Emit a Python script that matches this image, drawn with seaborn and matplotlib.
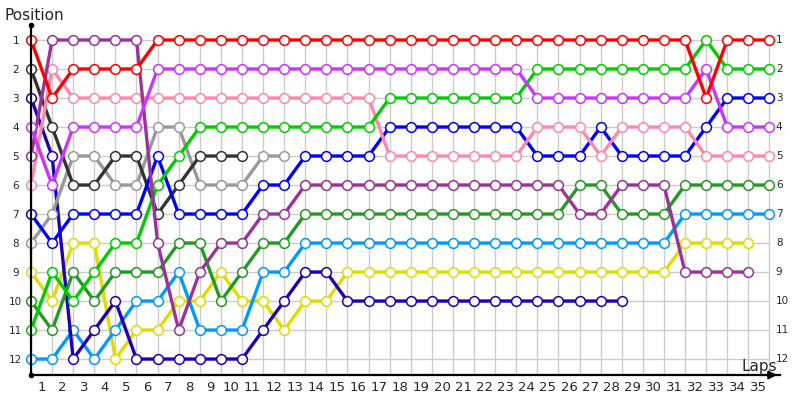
import matplotlib
matplotlib.use("Agg")
import matplotlib.pyplot as plt
import pandas as pd
import seaborn as sns

laps = list(range(36))
pos_labels = list(range(1, 13))

red = [1, 3, 2, 2, 2, 2, 1, 1, 1, 1, 1, 1, 1, 1, 1, 1, 1, 1, 1, 1, 1, 1, 1, 1, 1, 1,
       1, 1, 1, 1, 1, 1, 3, 1, 1, 1]
dark_gray = [2, 4, 6, 6, 5, 5, 7, 6, 5, 5, 5]
gray = [8, 7, 5, 5, 6, 6, 4, 4, 6, 6, 6, 5, 5]
indigo = [3, 5, 12, 11, 10, 12, 12, 12, 12, 12, 12, 11, 10, 9, 9, 10, 10, 10, 10, 10,
          10, 10, 10, 10, 10, 10, 10, 10, 10]
violet = [4, 6, 4, 4, 4, 4, 2, 2, 2, 2, 2, 2, 2, 2, 2, 2, 2, 2, 2, 2, 2, 2, 2, 2, 3, 3,
          3, 3, 3, 3, 3, 3, 2, 4, 4, 4]
purple = [5, 1, 1, 1, 1, 1, 8, 11, 9, 8, 8, 7, 7, 6, 6, 6, 6, 6, 6, 6, 6, 6, 6, 6, 6, 6,
          7, 7, 6, 6, 6, 9, 9, 9, 9]
pink = [6, 2, 3, 3, 3, 3, 3, 3, 3, 3, 3, 3, 3, 3, 3, 3, 3, 5, 5, 5, 5, 5, 5, 5, 4, 4,
        4, 5, 4, 4, 4, 4, 5, 5, 5, 5]
blue = [7, 8, 7, 7, 7, 7, 5, 7, 7, 7, 7, 6, 6, 5, 5, 5, 5, 4, 4, 4, 4, 4, 4, 4, 5, 5,
        5, 4, 5, 5, 5, 5, 4, 3, 3, 3]
green = [11, 9, 10, 9, 8, 8, 6, 5, 4, 4, 4, 4, 4, 4, 4, 4, 4, 3, 3, 3, 3, 3, 3, 3, 2, 2,
         2, 2, 2, 2, 2, 2, 1, 2, 2, 2]
dark_green = [10, 11, 9, 10, 9, 9, 9, 8, 8, 10, 9, 8, 8, 7, 7, 7, 7, 7, 7, 7, 7, 7, 7, 7,
              7, 7, 6, 6, 7, 7, 7, 6, 6, 6, 6, 6]
light_blue = [12, 12, 11, 12, 11, 10, 10, 9, 11, 11, 11, 9, 9, 8, 8, 8, 8, 8, 8, 8, 8, 8,
              8, 8, 8, 8, 8, 8, 8, 8, 8, 7, 7, 7, 7, 7]
yellow = [9, 10, 8, 8, 12, 11, 11, 10, 10, 9, 10, 10, 11, 10, 10, 9, 9, 9, 9, 9, 9, 9, 9,
          9, 9, 9, 9, 9, 9, 9, 9, 8, 8, 8, 8]

series = {
    "yellow": yellow, "light_blue": light_blue, "indigo": indigo, "dark_green": dark_green,
    "gray": gray, "dark_gray": dark_gray, "blue": blue, "pink": pink, "green": green,
    "purple": purple, "violet": violet, "red": red,
}
palette = {
    "red": "#ff0000", "dark_gray": "#333333", "indigo": "#1f00b8", "violet": "#cc33ff",
    "purple": "#993399", "pink": "#ff88aa", "blue": "#0000ff", "gray": "#999999",
    "yellow": "#dddd00", "dark_green": "#229922", "green": "#00cc00", "light_blue": "#0099ff",
}

rows = []
for name, vals in series.items():
    for lap, p in zip(laps, vals):
        rows.append({"driver": name, "lap": lap, "position": p})
df = pd.DataFrame(rows)

sns.set_style("white")
plt.rcParams["font.family"] = ["DejaVu Sans"]

fig = plt.figure(figsize=(8, 4), dpi=100)
ax = fig.add_axes([31 / 800, 25 / 400, 749 / 800, 350 / 400])
ax.set_xlim(0, 35.5)
ax.set_ylim(12.55, 0.483)

# grid
ax.vlines(laps, 1, 12.55, color="#cccccc", lw=1, zorder=0)
ax.hlines(pos_labels, 0, laps[-1], color="#cccccc", lw=1, zorder=0)

sns.lineplot(data=df, x="lap", y="position", hue="driver", palette=palette,
             hue_order=list(series.keys()), estimator=None, sort=False,
             marker="o", markersize=7, linewidth=2.4, legend=False, ax=ax)
for line in ax.get_lines():
    c = line.get_color()
    line.set_markerfacecolor("white")
    line.set_markeredgecolor(c)
    line.set_markeredgewidth(1.1)
    line.set_clip_on(False)

for s in ["top", "right"]:
    ax.spines[s].set_visible(False)
for s in ["left", "bottom"]:
    ax.spines[s].set_color("black")
    ax.spines[s].set_linewidth(1.6)

ax.set_yticks(pos_labels)
ax.set_yticklabels([str(p) for p in pos_labels], fontsize=7.5, ha="center")
ax.tick_params(axis="y", length=0, pad=11)
ax.set_xticks([l - 0.5 for l in laps[1:]])
ax.set_xticklabels([str(l) for l in laps[1:]], fontsize=9.5)
ax.tick_params(axis="x", length=0, pad=4)
ax.set_xlabel("")
ax.set_ylabel("")

for p in pos_labels:
    ax.text(35.3, p, str(p), ha="left", va="center", fontsize=7.5)

# axis decorations
ax.plot([0], [0.483], marker="o", color="black", markersize=3, clip_on=False)
ax.plot([0], [12.55], marker="o", color="black", markersize=3, clip_on=False)
ax.annotate("", xy=(1.0, 0), xycoords="axes fraction", xytext=(0.97, 0),
            arrowprops=dict(arrowstyle="-|>", color="black", lw=1.5, mutation_scale=12))

fig.text(5 / 800, 1 - 15 / 400, "Position", fontsize=11, va="center", ha="left")
fig.text(759 / 800, 1 - 366 / 400, "Laps", fontsize=11, va="center", ha="center")

fig.savefig("out.png", dpi=100)
